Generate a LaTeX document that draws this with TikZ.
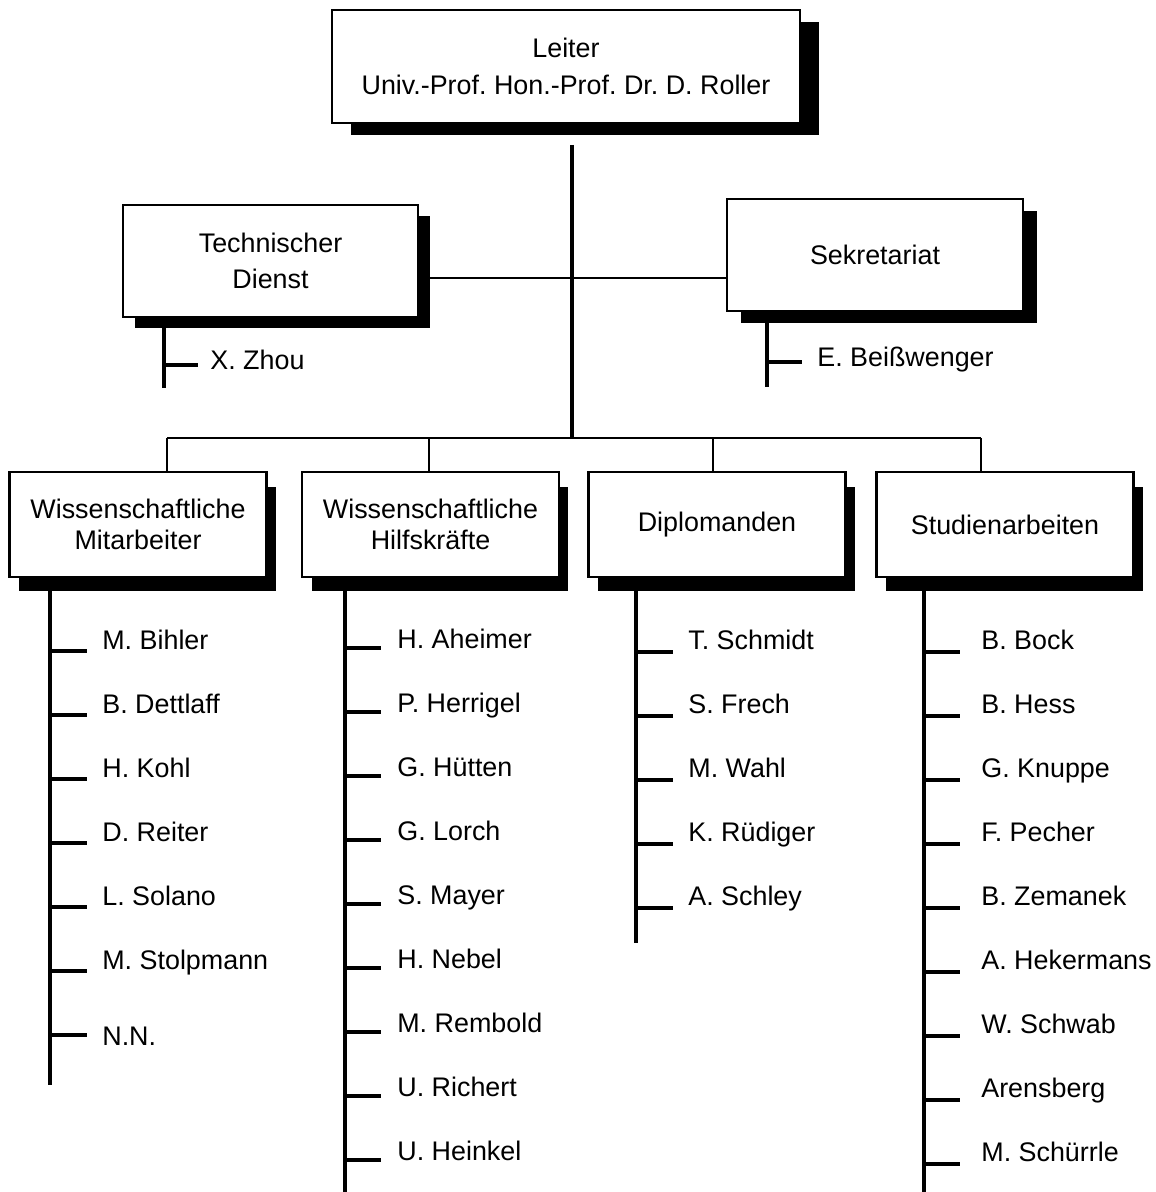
\documentclass[tikz,border=0pt]{standalone}
\usepackage{fontspec}
\setmainfont{Liberation Sans}
\usepackage{tikz}
\usetikzlibrary{positioning,shadows}
\frenchspacing

\begin{document}
\begin{tikzpicture}[
  x=0.02cm, y=-0.02cm,
  font=\fontsize{15.3}{18}\selectfont,
  box/.style 2 args={draw, line width=1.5pt, fill=white, align=center, inner sep=0pt,
    drop shadow={fill=black, opacity=1, shadow xshift=#1, shadow yshift=-#2}},
  topbox/.style 2 args={box={#1}{#2}, font=\fontsize{15.3}{20.5}\selectfont},
  group/.style={box={0.19cm}{0.29cm}, minimum width=5.14cm, minimum height=2.1cm},
  member/.style={inner sep=0pt, anchor=base west},
  trunk/.style={line width=1.8pt},
  link/.style={line width=1.2pt}
]
\useasboundingbox (0,0) rectangle (1155,1192);

\node[topbox={0.38cm}{0.24cm}, minimum width=9.36cm, minimum height=2.26cm] (leiter) at (566,66.5)
  {Leiter\\[1pt]Univ.-Prof. Hon.-Prof. Dr. D. Roller};
\node[topbox={0.24cm}{0.22cm}, minimum width=5.9cm, minimum height=2.24cm] (td) at (270.5,261)
  {Technischer\\Dienst};
\node[topbox={0.28cm}{0.24cm}, minimum width=5.92cm, minimum height=2.24cm] (sek) at (875,255)
  {Sekretariat};

\node[group] (wm) at (138,524.5) {Wissenschaftliche\\Mitarbeiter};
\node[group] (wh) at (430.5,524.5) {Wissenschaftliche\\Hilfskr\"afte};
\node[group] (dipl) at (717,524.5) {Diplomanden};
\node[group] (stud) at (1005,524.5) {Studienarbeiten};

% stem, staff line and bus
\coordinate (stem) at (572,145);
\coordinate (hub) at (572,438);
\coordinate (staff) at (572,278);
\draw[trunk] (stem) -- (hub);
\draw[link] (td.east |- staff) -- (sek.west |- staff);
\coordinate (bus-wm) at (167,438);
\coordinate (bus-wh) at (429,438);
\coordinate (bus-dipl) at (713,438);
\coordinate (bus-stud) at (981,438);
\draw[link] (bus-wm) -- (bus-stud);
\foreach \g in {wm,wh,dipl,stud}
  \draw[link] (bus-\g) -- (bus-\g |- \g.north);

% Technischer Dienst / Sekretariat
\coordinate (td-end) at (164,388);
\coordinate (td-t1) at (198,365);
\draw[trunk] (td-end |- td.south) -- (td-end);
\draw[trunk] (td-t1 -| td-end) -- (td-t1);
\node[right=0.24cm of td-t1, member, yshift=-0.1cm] (td-n1) {X. Zhou};

\coordinate (sek-end) at (767,387);
\coordinate (sek-t1) at (802,362);
\draw[trunk] (sek-end |- sek.south) -- (sek-end);
\draw[trunk] (sek-t1 -| sek-end) -- (sek-t1);
\node[right=0.3cm of sek-t1, member, yshift=-0.1cm] (sek-n1) {E. Bei\ss wenger};

% Wissenschaftliche Mitarbeiter
\coordinate (wm-end) at (50,1085);
\draw[trunk] (wm-end |- wm.south) -- (wm-end);
\foreach \who/\dy [count=\i] in {M. Bihler/0.04cm, B. Dettlaff/0.04cm, H. Kohl/0.04cm,
    D. Reiter/0.04cm, L. Solano/0.04cm, M. Stolpmann/0.04cm, N.N./-0.2cm}{
  \coordinate (wm-t\i) at (87,{651+64*(\i-1)});
  \draw[trunk] (wm-t\i -| wm-end) -- (wm-t\i);
  \node[right=0.3cm of wm-t\i, member, yshift=\dy] (wm-n\i) {\who};
}

% Wissenschaftliche Hilfskraefte
\coordinate (wh-end) at (345,1192);
\draw[trunk] (wh-end |- wh.south) -- (wh-end);
\foreach \who [count=\i] in {H. Aheimer, P. Herrigel, G. H\"utten, G. Lorch, S. Mayer,
    H. Nebel, M. Rembold, U. Richert, U. Heinkel}{
  \coordinate (wh-t\i) at (381,{648+64*(\i-1)});
  \draw[trunk] (wh-t\i -| wh-end) -- (wh-t\i);
  \node[right=0.32cm of wh-t\i, member] (wh-n\i) {\who};
}

% Diplomanden
\coordinate (dipl-end) at (636,943);
\draw[trunk] (dipl-end |- dipl.south) -- (dipl-end);
\foreach \who [count=\i] in {T. Schmidt, S. Frech, M. Wahl, K. R\"udiger, A. Schley}{
  \coordinate (dipl-t\i) at (673,{652+64*(\i-1)});
  \draw[trunk] (dipl-t\i -| dipl-end) -- (dipl-t\i);
  \node[right=0.3cm of dipl-t\i, member, yshift=0.06cm] (dipl-n\i) {\who};
}

% Studienarbeiten
\coordinate (stud-end) at (924,1192);
\draw[trunk] (stud-end |- stud.south) -- (stud-end);
\foreach \who [count=\i] in {B. Bock, B. Hess, G. Knuppe, F. Pecher, B. Zemanek,
    A. Hekermans, W. Schwab, Arensberg, M. Sch\"urrle}{
  \coordinate (stud-t\i) at (960,{652+64*(\i-1)});
  \draw[trunk] (stud-t\i -| stud-end) -- (stud-t\i);
  \node[right=0.42cm of stud-t\i, member, yshift=0.06cm] (stud-n\i) {\who};
}
\end{tikzpicture}
\end{document}
